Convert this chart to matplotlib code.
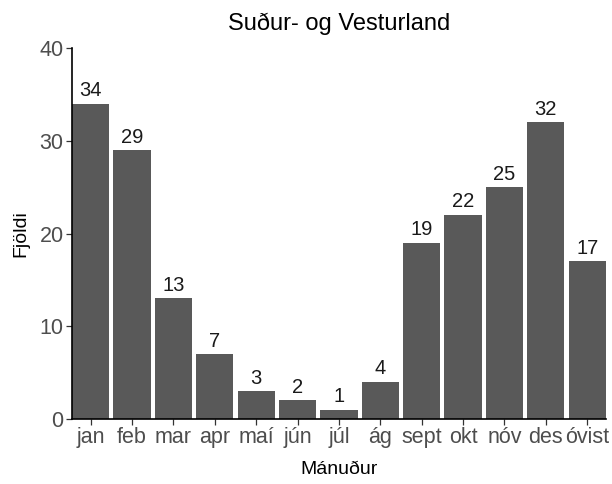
import matplotlib.pyplot as plt

plt.rcParams['font.family'] = ['Liberation Sans', 'DejaVu Sans']

months = ['jan', 'feb', 'mar', 'apr', 'maí', 'jún', 'júl', 'ág', 'sept', 'okt', 'nóv', 'des', 'óvist']
counts = [34, 29, 13, 7, 3, 2, 1, 4, 19, 22, 25, 32, 17]

fig = plt.figure(figsize=(6.12, 4.84), dpi=100)
ax = fig.add_axes([0.1176, 0.1343, 0.8724, 0.7665])

x = list(range(len(months)))
ax.bar(x, counts, width=0.9, color='#595959')
for xi, c in zip(x, counts):
    ax.annotate(str(c), (xi, c), xytext=(0, 2.5), textcoords='offset points',
                ha='center', va='bottom', fontsize=14.5, color='#1a1a1a')

ax.set_xlim(-0.45, len(months) - 0.55)
ax.set_ylim(0, 40)
ax.set_yticks([0, 10, 20, 30, 40])
ax.set_xticks(x)
ax.set_xticklabels(months)

for side in ['top', 'right']:
    ax.spines[side].set_visible(False)
for side in ['left', 'bottom']:
    ax.spines[side].set_linewidth(1.2)
    ax.spines[side].set_color('black')

ax.tick_params(axis='both', colors='#333333', labelcolor='#4D4D4D',
               labelsize=15.5, length=4, width=0.9, pad=2)

ax.set_title('Suður- og Vesturland', fontsize=17, pad=13)
ax.set_xlabel('Mánuður', fontsize=14, labelpad=9)
ax.set_ylabel('Fjöldi', fontsize=14, labelpad=7)

fig.savefig('out.png', dpi=100)
